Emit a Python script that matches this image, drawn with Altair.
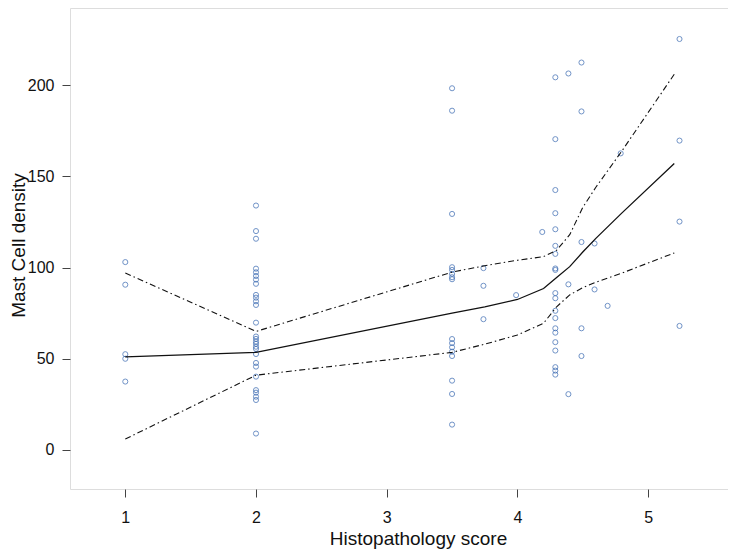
import altair as alt
import pandas as pd

# ---- scatter data (Histopathology score vs Mast Cell density) ----
x_1 = [1.0] * 5
y_1 = [103, 90.6, 52.5, 50, 37.5]
x_2 = [2.0] * 28
y_2 = [134, 120, 115.8, 99.4, 97.4, 95.4, 93.4, 91.1, 85, 83.5, 81.5, 79.5, 69.8,
       62.2, 60.9, 59.4, 58.2, 56.6, 55.4, 52.6, 47.7, 45.7, 40.2, 32.8, 31.4, 29.2, 27.4, 9]
x_35 = [3.5] * 16
y_35 = [198.3, 186, 129.4, 100.2, 98.7, 96.5, 94.7, 93.6, 60.8, 58.6, 56.3, 53.9, 51.5, 38, 30.7, 13.9]
x_other = [3.74, 3.74, 3.74, 3.99, 4.19,
           4.29, 4.29, 4.29, 4.29, 4.29, 4.29, 4.29, 4.29, 4.29, 4.29,
           4.29, 4.29, 4.29, 4.29, 4.29, 4.29, 4.29, 4.29, 4.29, 4.29,
           4.39, 4.39, 4.39, 4.49, 4.49, 4.49, 4.49, 4.49,
           4.59, 4.59, 4.69, 4.79, 5.24, 5.24, 5.24, 5.24]
y_other = [99.7, 90, 71.7, 84.9, 119.5,
           204.3, 170.4, 142.5, 129.8, 121, 111.9, 107.5, 99.5, 98.7, 86,
           83.2, 76.3, 72.3, 66.7, 64.3, 59.1, 54.5, 45.4, 43.5, 41.3,
           206.4, 90.8, 30.6, 212.4, 185.6, 114, 66.7, 51.5,
           113.2, 88, 79, 162.6, 225.3, 169.6, 125.2, 68]

# ---- smoother and confidence band lines ----
line_x = [1, 2, 3.5, 3.75, 4, 4.2, 4.3, 4.4, 4.5, 4.6, 4.7, 4.8, 5.2]
fit = [51, 53.5, 75, 78.5, 82.5, 88.5, 94.5, 100.5, 108.5, 116, 123, 130, 157]
upper = [97, 65, 97.5, 101, 104, 106, 109.5, 118, 133, 144, 154, 164, 206]
lower = [6, 41, 53.5, 58, 63, 69.5, 78.5, 85, 89, 92, 94.5, 97, 108]

pts = pd.DataFrame({"score": x_1 + x_2 + x_35 + x_other,
                    "density": y_1 + y_2 + y_35 + y_other})
lines = pd.DataFrame({"score": line_x * 3,
                      "value": fit + upper + lower,
                      "kind": ["fit"] * len(line_x) + ["upper"] * len(line_x) + ["lower"] * len(line_x)})

FONT = "Liberation Sans"
xscale = alt.Scale(domain=[0.577, 5.611], nice=False, zero=False)
yscale = alt.Scale(domain=[-21.4, 242.3], nice=False, zero=False)

xaxis = alt.Axis(values=[1, 2, 3, 4, 5], format="d", title="Histopathology score", grid=False, domain=False,
                 tickSize=8, tickColor="#444", labelPadding=12, labelFontSize=16, labelFont=FONT,
                 labelColor="#111", titleFont=FONT, titleFontSize=19, titleFontWeight="normal",
                 titleColor="#111", titleX=348, titleY=49, titleBaseline="middle", titleAlign="center")
yaxis = alt.Axis(values=[0, 50, 100, 150, 200], format="d", title="Mast Cell density", grid=False, domain=False,
                 tickSize=8, tickColor="#444", labelPadding=8, labelFontSize=16, labelFont=FONT,
                 labelColor="#111", titleFont=FONT, titleFontSize=19, titleFontWeight="normal",
                 titleColor="#111", titleX=-52, titleY=237, titleBaseline="middle", titleAlign="center",
                 titleAngle=270)

points = alt.Chart(pts).mark_point(shape="circle", filled=False, size=26, strokeWidth=1,
                                    color="#3566b0").encode(
    x=alt.X("score:Q", scale=xscale, axis=xaxis),
    y=alt.Y("density:Q", scale=yscale, axis=yaxis),
)

fit_line = alt.Chart(lines).transform_filter(alt.datum.kind == "fit").mark_line(
    color="#111", strokeWidth=1.3).encode(
    x=alt.X("score:Q", scale=xscale),
    y=alt.Y("value:Q", scale=yscale),
)

band_lines = alt.Chart(lines).transform_filter(alt.datum.kind != "fit").mark_line(
    color="#111", strokeWidth=1.1, strokeDash=[6, 3, 1.5, 3]).encode(
    x=alt.X("score:Q", scale=xscale),
    y=alt.Y("value:Q", scale=yscale),
    detail="kind:N",
)

chart = alt.layer(points, band_lines, fit_line).properties(
    width=658, height=481,
    autosize=alt.AutoSizeParams(type="none"),
    padding={"left": 62, "top": 0, "right": 0, "bottom": 60},
).configure_view(stroke="#333", strokeWidth=1.4).configure(background="white")

chart.save("out.html", embed_options={"renderer": "svg", "actions": False})
